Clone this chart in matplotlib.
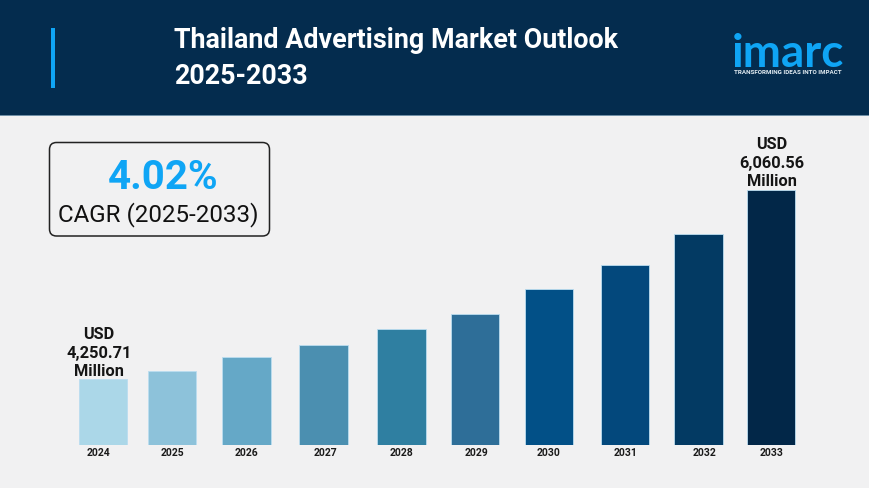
import matplotlib
matplotlib.use('Agg')
import matplotlib.pyplot as plt
from matplotlib.patches import FancyBboxPatch, Rectangle

plt.rcParams['font.family'] = ['Roboto', 'DejaVu Sans']

years = ['2024', '2025', '2026', '2027', '2028', '2029', '2030', '2031', '2032', '2033']
market_size = [4250.71, 4327, 4452, 4576, 4720, 4873, 5103, 5342, 5639, 6060.56]
bar_colors = ['#ABD7E8', '#8DC2DA', '#65A8C7', '#4B8FB0', '#2F7FA1',
              '#2E6E98', '#025087', '#03487C', '#033A63', '#022748']

title_lines = ['Thailand Advertising Market Outlook', '2025-2033']
cagr_value = '4.02%'
cagr_label = 'CAGR (2025-2033)'
first_label = 'USD\n4,250.71\nMillion'
last_label = 'USD\n6,060.56\nMillion'

W, H = 870, 489
BG = '#F1F1F2'
NAVY = '#042C4E'
CYAN = '#0FA5F5'

# bars are not evenly spaced in the picture, so place them by pixel
bar_centers = [103, 172, 246.5, 323.5, 401.5, 475, 549, 625, 698.5, 771]
label_centers = [99, 172, 247, 325, 402, 477, 549, 626, 705, 772]
bar_width = 48.5
base_px = 445.5
top_px = 115
# y axis is cut off well above zero
value_per_px = (6060.56 - 4250.71) / 189
base_value = 4250.71 - 66 * value_per_px

fig = plt.figure(figsize=(W / 100, H / 100), dpi=100, facecolor=BG)

# pixel overlay for header, box and logo
bg = fig.add_axes([0, 0, 1, 1])
bg.set_xlim(0, W)
bg.set_ylim(H, 0)
bg.axis('off')
bg.add_patch(Rectangle((0, 0), W, 115.5, color=NAVY, lw=0))
bg.add_patch(Rectangle((0, 115.5), W, 1, color='#6F8FA6', lw=0))
bg.add_patch(Rectangle((51.5, 28.5), 4, 60, color=CYAN, lw=0))

bg.text(174.5, 41, title_lines[0], color='white', fontsize=19.4, fontweight='bold', va='center')
bg.text(174.5, 76, title_lines[1], color='white', fontsize=19.4, fontweight='bold', va='center')

bg.add_patch(FancyBboxPatch((49.5, 143.5), 220, 93.5, boxstyle='round,pad=0,rounding_size=7',
                            fc=BG, ec='#222222', lw=1.1))
bg.text(163.5, 178, cagr_value, color=CYAN, fontsize=29, fontweight='bold', ha='center', va='center')
bg.text(158.5, 215, cagr_label, color='#111111', fontsize=17.4, ha='center', va='center')

# logo
bg.text(788, 54, 'imarc', color=CYAN, fontsize=33, family=['Lato', 'DejaVu Sans'],
        ha='center', va='center', fontweight='bold')
bg.text(788, 72, 'TRANSFORMING IDEAS INTO IMPACT', color='#E4EEF4', fontsize=4.5,
        fontweight='bold', ha='center', va='center')

# bar chart, pixel x scale, value y scale
ax = fig.add_axes([0, (H - base_px) / H, 1, (base_px - top_px) / H])
ax.patch.set_alpha(0)
ax.set_xlim(0, W)
ax.set_ylim(base_value, base_value + (base_px - top_px) * value_per_px)
for s in ax.spines.values():
    s.set_visible(False)
ax.bar(bar_centers, market_size, width=bar_width, color=bar_colors,
       edgecolor='#BBDDF0', linewidth=0.6)
ax.set_yticks([])
ax.set_xticks(label_centers)
ax.set_xticklabels(years, fontsize=7.5, fontweight='bold', color='#1A1A1A')
ax.tick_params(axis='x', length=0, pad=2)

ax.annotate(first_label, (99, market_size[0]), xytext=(0, 0), textcoords='offset points',
            ha='center', va='bottom', fontsize=11.8, fontweight='bold', color='#151515', linespacing=1.3)
ax.annotate(last_label, (bar_centers[-1] + 1, market_size[-1]), xytext=(0, 1), textcoords='offset points',
            ha='center', va='bottom', fontsize=11.8, fontweight='bold', color='#151515',
            linespacing=1.3, annotation_clip=False)

fig.savefig('out.png', dpi=100, facecolor=BG)
plt.close(fig)
